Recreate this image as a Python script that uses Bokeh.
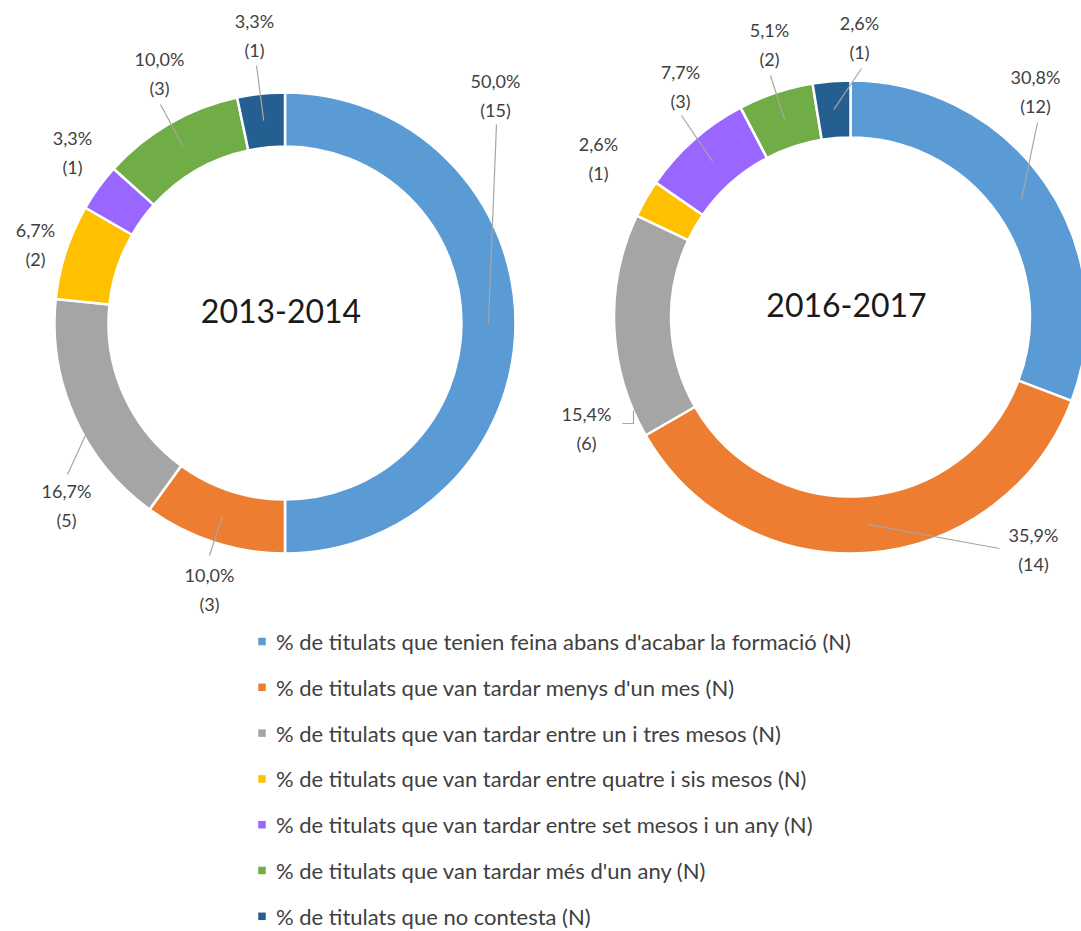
import math
from bokeh.plotting import figure
from bokeh.models import Range1d
from bokeh.core.properties import value
from bokeh.embed import file_html
from bokeh.resources import INLINE

# ---------------- data ----------------
categories = [
    "% de titulats que tenien feina abans d'acabar la formació (N)",
    "% de titulats que van tardar menys d'un mes (N)",
    "% de titulats que van tardar entre un i tres mesos (N)",
    "% de titulats que van tardar entre quatre i sis mesos (N)",
    "% de titulats que van tardar entre set mesos i un any (N)",
    "% de titulats que van tardar més d'un any (N)",
    "% de titulats que no contesta (N)",
]
periods = ["2013-2014", "2016-2017"]
counts_2013 = [15, 3, 5, 2, 1, 3, 1]
counts_2016 = [12, 14, 6, 1, 3, 2, 1]
pct_2013 = [50.0, 10.0, 16.7, 6.7, 3.3, 10.0, 3.3]
pct_2016 = [30.8, 35.9, 15.4, 2.6, 7.7, 5.1, 2.6]

# ---------------- style / layout ----------------
colors = ["#5B9BD5", "#ED7D31", "#A5A5A5", "#FFC000", "#9966FF", "#70AD47", "#255E91"]
FONT = value("Lato")
LABEL_COLOR = "#404040"
LEADER_COLOR = "#A6A6A6"
W, H = 1081, 931


def Y(py):
    return H - py


rings = [
    dict(cx=284.5, cy=322.5, r_out=230.5, r_in=176.5),
    dict(cx=850.0, cy=316.5, r_out=236.5, r_in=179.5),
]
# label anchor (x, y of first line) and leader start point(s); True = ends at ring middle
label_layout = [
    [
        ((495, 80), [(496, 124)], True),
        ((209, 574), [(209, 555)], True),
        ((66, 490), [(67, 474)], True),
        ((35, 229), None, False),
        ((72, 137), None, False),
        ((159, 58), [(160, 104)], True),
        ((254, 20), [(256, 65)], True),
    ],
    [
        ((1035, 76), [(1037, 122)], True),
        ((1033, 534), [(999, 548)], True),
        ((586, 413), [(622, 423), (633, 423), (633, 410)], False),
        ((598, 143), None, False),
        ((680, 71), [(681, 115)], True),
        ((769, 29), [(770, 75)], True),
        ((859, 22), [(861, 68)], True),
    ],
]
LINE_GAP = 29

p = figure(width=W, height=H, output_backend="svg", toolbar_location=None,
           x_range=Range1d(0, W), y_range=Range1d(0, H),
           x_axis_location=None, y_axis_location=None, min_border=0,
           background_fill_color="white", border_fill_color="white")
p.grid.visible = False
p.outline_line_color = None

for ring, counts, pcts, period, layout in zip(rings, [counts_2013, counts_2016],
                                             [pct_2013, pct_2016], periods, label_layout):
    total = float(sum(counts))
    cum = 0.0
    starts, ends, mids = [], [], []
    for c in counts:
        f0 = cum / total
        cum += c
        f1 = cum / total
        starts.append(math.pi / 2 - 2 * math.pi * f0)
        ends.append(math.pi / 2 - 2 * math.pi * f1)
        mids.append(math.pi / 2 - math.pi * (f0 + f1))
    n = len(counts)
    p.annular_wedge(x=[ring["cx"]] * n, y=[Y(ring["cy"])] * n,
                    inner_radius=ring["r_in"], outer_radius=ring["r_out"],
                    start_angle=starts, end_angle=ends, direction="clock",
                    fill_color=colors, line_color="white", line_width=2.5)
    r_mid = (ring["r_in"] + ring["r_out"]) / 2.0
    # leader lines
    for (anchor, pts, to_ring), m in zip(layout, mids):
        if pts is None:
            continue
        xs = [pt[0] for pt in pts]
        ys = [Y(pt[1]) for pt in pts]
        if to_ring:
            xs.append(ring["cx"] + r_mid * math.cos(m))
            ys.append(Y(ring["cy"]) + r_mid * math.sin(m))
        p.line(xs, ys, line_color=LEADER_COLOR, line_width=1.2)
    # labels
    lx = [a[0][0] for a in layout]
    ly1 = [Y(a[0][1]) for a in layout]
    ly2 = [Y(a[0][1] + LINE_GAP) for a in layout]
    t1 = [("%.1f%%" % v).replace(".", ",") for v in pcts]
    t2 = ["(%d)" % c for c in counts]
    p.text(x=lx, y=ly1, text=t1, text_align="center", text_baseline="middle",
           text_font=FONT, text_font_size="18px", text_color=LABEL_COLOR)
    p.text(x=lx, y=ly2, text=t2, text_align="center", text_baseline="middle",
           text_font=FONT, text_font_size="18px", text_color=LABEL_COLOR)
    # centre title
    p.text(x=[ring["cx"] - 4], y=[Y(ring["cy"] - 12)], text=[period],
           text_align="center", text_baseline="middle", text_font=FONT,
           text_font_size="32px", text_color="#1A1A1A")

# legend
LEG_X, LEG_Y0, LEG_DY = 261.5, 641.0, 45.8
ly = [Y(LEG_Y0 + i * LEG_DY) for i in range(len(categories))]
p.rect(x=[LEG_X] * len(categories), y=ly, width=7.5, height=7.5, fill_color=colors, line_color=None)
p.text(x=[LEG_X + 14] * len(categories), y=ly, text=categories, text_align="left",
       text_baseline="middle", text_font=FONT, text_font_size="22px", text_color=LABEL_COLOR)

open("out.html", "w").write(file_html(p, INLINE))
